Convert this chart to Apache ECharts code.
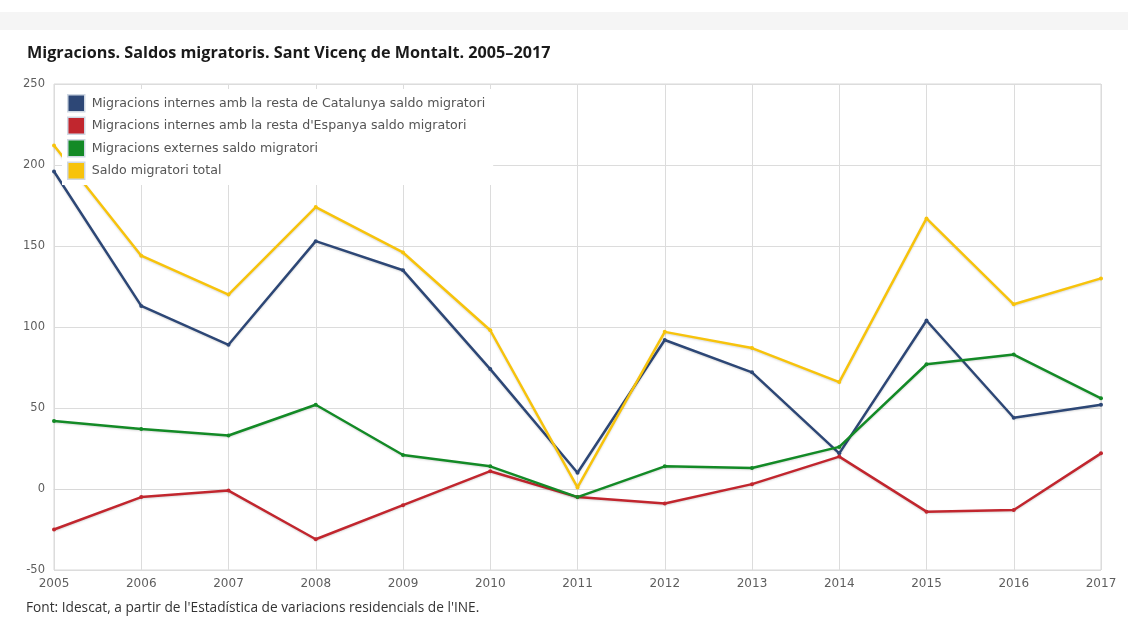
<!DOCTYPE html>
<html>
<head>
<meta charset="utf-8">
<script src="https://cdn.jsdelivr.net/npm/echarts@6/dist/echarts.min.js"></script>
<style>
html,body{margin:0;padding:0;background:#fff;}
#c{width:1128px;height:635px;}
</style>
</head>
<body>
<div id="c"></div>
<script>
const years = ['2005','2006','2007','2008','2009','2010','2011','2012','2013','2014','2015','2016','2017'];
const catalunya = [196,113,89,153,135,74,10,92,72,22,104,44,52];
const espanya = [-25,-5,-1,-31,-10,11,-5,-9,3,20,-14,-13,22];
const externes = [42,37,33,52,21,14,-5,14,13,26,77,83,56];
const total = [212,144,120,174,146,98,1,97,87,66,167,114,130];
const names = [
  'Migracions internes amb la resta de Catalunya saldo migratori',
  "Migracions internes amb la resta d'Espanya saldo migratori",
  'Migracions externes saldo migratori',
  'Saldo migratori total'
];
const colors = ['#2d4776','#c1262e','#138a26','#f7c30c'];

const chart = echarts.init(document.getElementById('c'));
function mk(name, data, color){
  return {
    name, type:'line', data,
    symbol:'circle', symbolSize:4, showSymbol:true,
    itemStyle:{color},
    lineStyle:{color, width:2.5, shadowColor:'rgba(0,0,0,0.15)', shadowBlur:2, shadowOffsetY:1},
    animation:false
  };
}
chart.setOption({
  animation:false,
  color: colors,
  graphic:[
    {type:'rect', left:0, top:12, shape:{width:1128, height:18}, style:{fill:'#f5f5f5'}, z:-10},
    {type:'text', left:27, top:45, style:{text:'Migracions. Saldos migratoris. Sant Vicenç de Montalt. 2005–2017', font:'bold 16.2px "Open Sans"', fill:'#1a1a1a'}},
    {type:'text', left:26, top:601, style:{text:"Font: Idescat, a partir de l'Estadística de variacions residencials de l'INE.", font:'13.7px "Open Sans"', fill:'#333'}}
  ],
  grid:{left:54, right:27, top:84, bottom:65, show:true, borderColor:'#d8d8d8', borderWidth:1},
  legend:{
    orient:'vertical', left:62, top:89,
    backgroundColor:'#fff',
    padding:[5,8,5,5],
    itemWidth:17, itemHeight:17, itemGap:4,
    icon:'rect',
    itemStyle:{borderColor:'#cfd8e3', borderWidth:1.5},
    textStyle:{fontFamily:'DejaVu Sans', fontSize:12.6, color:'#555', padding:[0,0,0,2]},
    data:names
  },
  xAxis:{
    type:'category', data:years, boundaryGap:false,
    axisLine:{show:true, lineStyle:{color:'#d8d8d8'}},
    axisTick:{show:false},
    splitLine:{show:true, lineStyle:{color:'#dcdcdc'}},
    axisLabel:{color:'#5e5e5e', fontFamily:'DejaVu Sans', fontSize:12, margin:8, showMinLabel:true, showMaxLabel:true}
  },
  yAxis:{
    type:'value', min:-50, max:250, interval:50,
    axisLine:{show:false}, axisTick:{show:false},
    splitLine:{show:true, lineStyle:{color:'#dcdcdc'}},
    axisLabel:{color:'#5e5e5e', fontFamily:'DejaVu Sans', fontSize:11.5, margin:9}
  },
  series:[
    mk(names[0], catalunya, colors[0]),
    mk(names[1], espanya, colors[1]),
    mk(names[2], externes, colors[2]),
    mk(names[3], total, colors[3])
  ]
});
</script>
</body>
</html>
